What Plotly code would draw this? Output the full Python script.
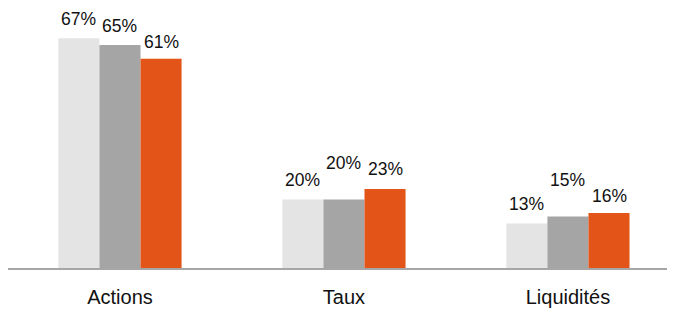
import plotly.graph_objects as go

categories = ["Actions", "Taux", "Liquidités"]
series_a = [67, 20, 13]
series_b = [65, 20, 15]
series_c = [61, 23, 16]
label_lift = [[19, 19, 19], [19, 36, 37], [17, 20, 17]]
colors = ["#E4E4E4", "#A5A5A5", "#E35419"]

fig = go.Figure()
for vals, col in zip([series_a, series_b, series_c], colors):
    fig.add_trace(go.Bar(x=categories, y=vals, marker=dict(color=col, line=dict(width=0)),
                         hoverinfo="skip", showlegend=False))

offsets = [-1, 0, 1]
annotations = []
for si, vals in enumerate([series_a, series_b, series_c]):
    for ci, v in enumerate(vals):
        annotations.append(dict(
            x=ci + offsets[si] * 0.1835, y=v, xref="x", yref="y",
            text=f"{v}%", showarrow=False, yanchor="middle",
            yshift=label_lift[si][ci],
            font=dict(family="Liberation Sans, Arial", size=17.5, color="#111111")))

fig.update_layout(
    width=667, height=301,
    margin=dict(l=0, r=0, t=0, b=41),
    paper_bgcolor="white", plot_bgcolor="white",
    barmode="group", bargap=0.45, bargroupgap=0,
    annotations=annotations,
    font=dict(family="Liberation Sans, Arial", color="#111111"),
)
fig.update_xaxes(type="category", range=[-0.5, 2.478], showline=True, linecolor="#A6A6A6",
                 linewidth=1.5, showgrid=False, ticks="", ticklabelstandoff=10,
                 tickfont=dict(size=20, color="#111111"))
fig.update_yaxes(range=[0, 75.8], visible=False, showgrid=False, zeroline=False)

fig.write_html("out.html")
